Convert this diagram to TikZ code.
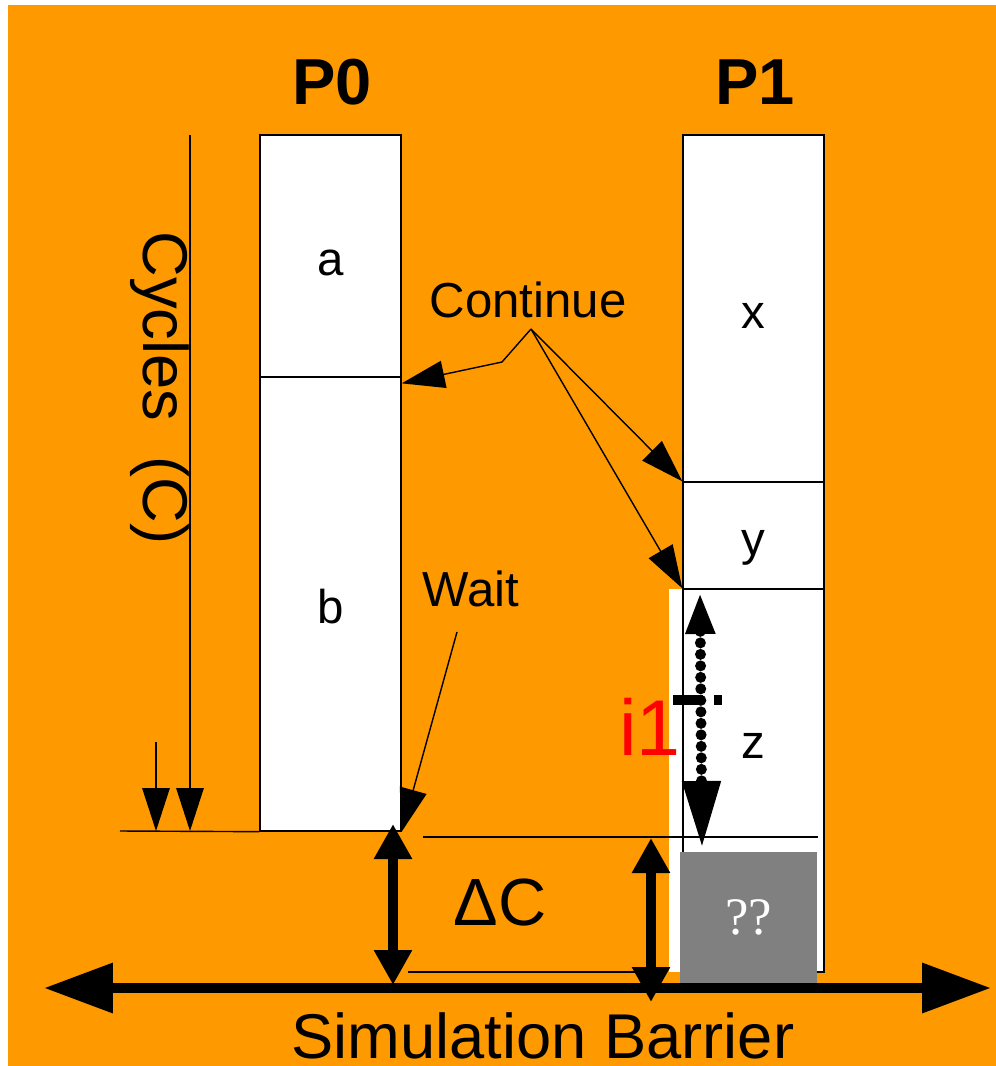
\documentclass[tikz,border=0pt]{standalone}
\usepackage{fontspec}
\setmainfont{Liberation Sans}
\newfontfamily\qfont{Liberation Serif}
\usetikzlibrary{arrows.meta,positioning}
\definecolor{slideorange}{RGB}{255,153,0}
\definecolor{unkgray}{RGB}{128,128,128}

\begin{document}
\begin{tikzpicture}[x=0.02cm,y=-0.02cm,
    cell/.style={draw,fill=white,line width=0.8pt,minimum width=2.82cm,inner sep=0pt,
                 text height=0.78cm,text depth=0pt,font=\fontsize{27}{30}\selectfont},
    txt/.style={inner sep=0pt,font=\fontsize{28}{32}\selectfont},
    head/.style={inner sep=0pt,font=\fontsize{37}{40}\selectfont\bfseries},
    thin/.style={line width=0.8pt},
    ptr/.style={thin,-{Triangle[length=0.86cm,width=0.55cm]}},
    dbl/.style={line width=0.2cm,{Triangle[length=0.7cm,width=0.72cm]}-{Triangle[length=0.7cm,width=0.72cm]}},
    barrier/.style={line width=0.2cm,{Triangle[length=1.38cm,width=0.96cm]}-{Triangle[length=1.38cm,width=0.96cm]}},
    dots/.style={line width=0.22cm,line cap=round,dash pattern=on 0pt off 0.23cm,
                 {Triangle[length=0.84cm,width=0.54cm]}-{Triangle[length=1.34cm,width=0.72cm]}}]
  \useasboundingbox (0,0) rectangle (996,1066);
  \fill[white] (0,0) rectangle (996,1066);
  \fill[slideorange] (8,5) rectangle (996,1066);

  \node[head] (p0) at (332,82) {P0};
  \node[head] (p1) at (755,82) {P1};

  \fill[white] (669,589) rectangle (683,972);
  \node[cell,minimum height=4.84cm] (p0a) at (330.5,256) {a};
  \node[cell,minimum height=9.08cm] (p0b) at (330.5,604) {b};
  \node[cell,minimum height=6.94cm] (p1x) at (753.5,308.5) {x};
  \node[cell,minimum height=2.14cm] (p1y) at (753.5,535.5) {y};
  \node[cell,minimum height=7.66cm] (p1z) at (753.5,780.5) {};
  \node[cell,draw=none,fill=none] (zlbl) at ([yshift=0.84cm]p1z.center) {z};
  \node[fill=unkgray,minimum width=2.74cm,minimum height=2.62cm,inner sep=0pt,
        text=white,font=\qfont\fontsize{30}{32}\selectfont] (unk) at (748.5,917.5) {??};

  \node[txt,rotate=-90,font=\fontsize{36}{40}\selectfont] (cyc) at (160,388) {Cycles\ \ (C)};
  \node[txt] (cont) at (528,300) {Continue};
  \node[txt] (wait) at (471,589) {Wait};
  \node[txt,font=\fontsize{38}{40}\selectfont] (dc) at (500,903) {ΔC};
  \node[txt,text=red,font=\fontsize{45}{48}\selectfont] (i1) at (650,727) {i1};
  \node[txt,anchor=base,font=\fontsize{36}{38}\selectfont] (sb) at (543,1058) {Simulation Barrier};

  \coordinate (ctop) at (190,135);
  \coordinate (cbot) at (190,831);
  \coordinate (stop) at (156,742);
  \coordinate (sbot) at (156,831);
  \coordinate (cleft) at (120,831);
  \coordinate (cfork) at (531,329);
  \coordinate (cbend) at (502,362);
  \coordinate (wfrom) at (457,632);
  \coordinate (dl1) at (393,824);
  \coordinate (dl2) at (393,985);
  \coordinate (dr1) at (651,838);
  \coordinate (dr2) at (651,1002);
  \coordinate (bl) at (44,988);
  \coordinate (br) at (991,988);
  \coordinate (i1a) at (700,592);
  \coordinate (i1b) at (702,848);

  \draw[thin] (cleft) -- (p0b.south west);
  \draw[thin] (423,837) -- (818,837);
  \draw[thin] (408,972) -- (660,972);
  \draw[ptr] (ctop) -- (cbot);
  \draw[ptr] (stop) -- (sbot);
  \draw[ptr] (cfork) -- (cbend) -- ([yshift=-0.14cm]p0b.north east);
  \draw[ptr] (cfork) -- (p1y.north west);
  \draw[ptr] (cfork) -- (p1z.north west);
  \draw[ptr] (wfrom) -- (p0b.south east);
  \draw[dbl] (dl1) -- (dl2);
  \draw[dbl] (dr1) -- (dr2);
  \draw[barrier] (bl) -- (br);
  \draw[dots] (i1a) -- (i1b);
  \draw[line width=0.2cm,dash pattern=on 0.6cm off 0.22cm on 0.16cm off 2cm] (673,700) -- (725,700);
\end{tikzpicture}
\end{document}
